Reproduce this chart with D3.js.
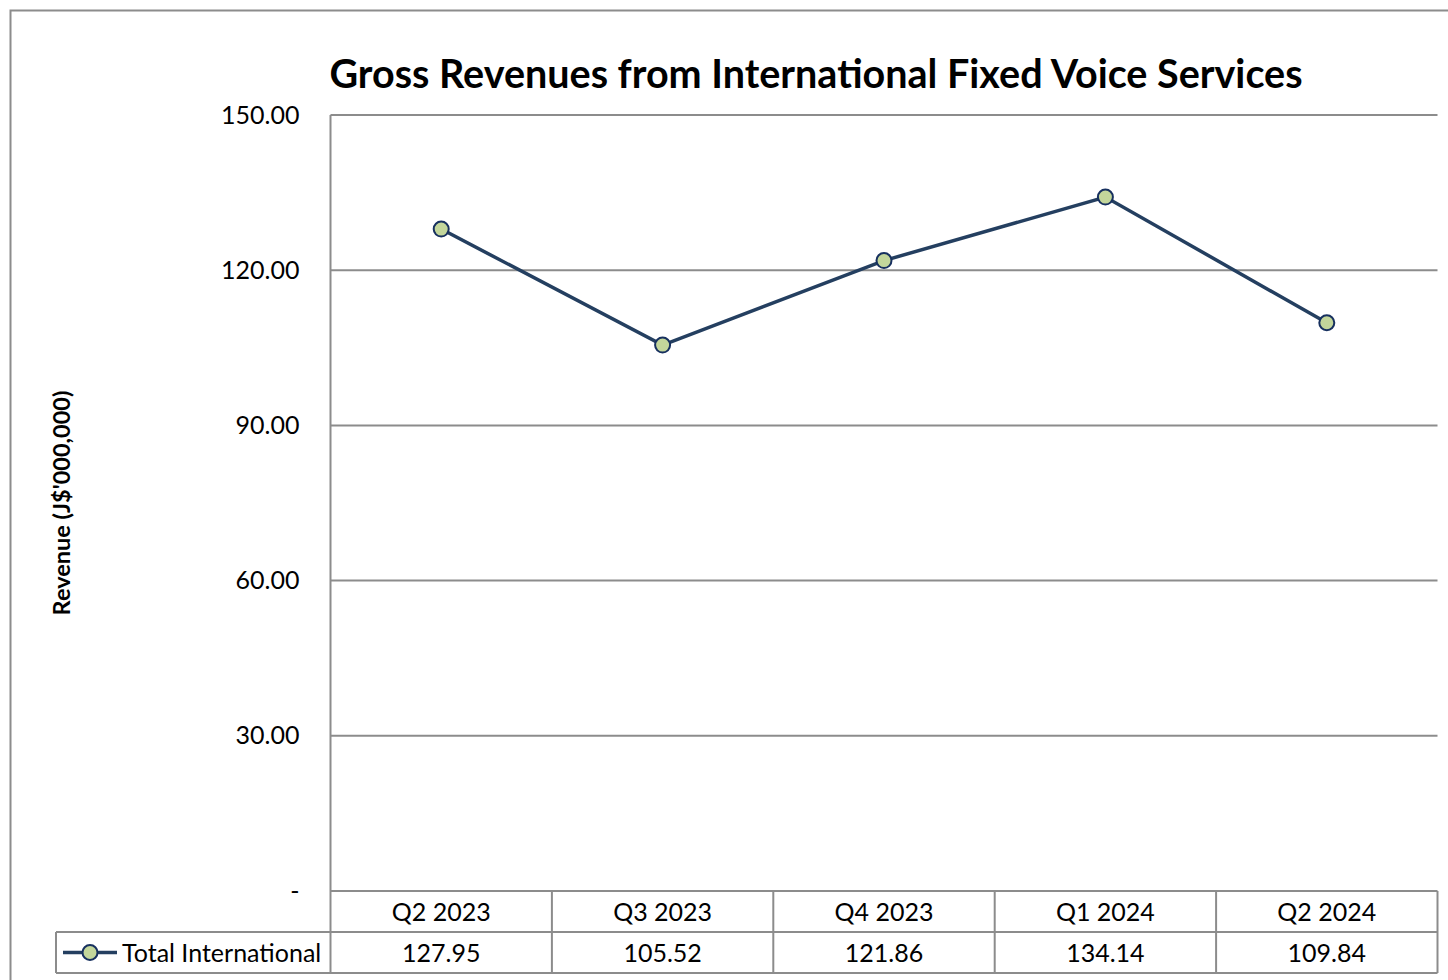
<!DOCTYPE html>
<html><head><meta charset="utf-8">
<script src="https://cdn.jsdelivr.net/npm/d3@7"></script>
<style>body{margin:0;background:#fff}svg{display:block}text{font-family:Lato,"Open Sans",sans-serif;fill:#000}</style>
</head><body>
<script>
const categories = ["Q2 2023","Q3 2023","Q4 2023","Q1 2024","Q2 2024"];
const seriesName = "Total International";
const values = [127.95,105.52,121.86,134.14,109.84];
const valueLabels = ["127.95","105.52","121.86","134.14","109.84"];
const yTicks = [0,30,60,90,120,150];
const yTickLabels = ["-","30.00","60.00","90.00","120.00","150.00"];
const title = "Gross Revenues from International Fixed Voice Services";
const yTitle = "Revenue (J$'000,000)";

const W=1448,H=980;
const svg=d3.select("body").append("svg").attr("width",W).attr("height",H);
svg.append("rect").attr("x",10.5).attr("y",10.5).attr("width",W).attr("height",H).attr("fill","#fff").attr("stroke","#8c8c8c").attr("stroke-width",2);

const L=330.5,R=1437.5,T=115,B=891;
const x=d3.scaleBand().domain(categories).range([L,R]);
const y=d3.scaleLinear().domain([0,150]).range([B,T]);
const gridColor="#8c8c8c";
const FS=25;

// gridlines
svg.append("g").selectAll("line").data(yTicks.filter(d=>d>0)).join("line")
 .attr("x1",L).attr("x2",R).attr("y1",d=>y(d)).attr("y2",d=>y(d))
 .attr("stroke",gridColor).attr("stroke-width",2);
// left axis line
svg.append("line").attr("x1",L).attr("x2",L).attr("y1",T).attr("y2",B).attr("stroke",gridColor).attr("stroke-width",2);

// y tick labels
const yAxis=d3.axisLeft(y).tickValues(yTicks).tickFormat((d,i)=>yTickLabels[i]).tickSize(0).tickPadding(31);
const ga=svg.append("g").attr("transform",`translate(${L},0)`).call(yAxis);
ga.select(".domain").remove();
ga.selectAll("text").attr("font-size",FS).attr("font-family","Lato, 'Open Sans', sans-serif").attr("fill","#000");

// title
svg.append("text").attr("x",816).attr("y",88).attr("text-anchor","middle")
 .attr("font-size",39.5).attr("font-weight","bold").text(title);
// y title
svg.append("text").attr("transform","translate(70,503) rotate(-90)").attr("text-anchor","middle")
 .attr("font-size",23.5).attr("font-weight","bold").text(yTitle);

// data table
const row1=B, row2=932, row3=973, legL=56;
const tbl=svg.append("g").attr("stroke",gridColor).attr("stroke-width",2).attr("fill","none");
tbl.append("line").attr("x1",L).attr("x2",R).attr("y1",row1).attr("y2",row1);
tbl.append("line").attr("x1",legL).attr("x2",R).attr("y1",row2).attr("y2",row2);
tbl.append("line").attr("x1",legL).attr("x2",R).attr("y1",row3).attr("y2",row3);
tbl.append("line").attr("x1",legL).attr("x2",legL).attr("y1",row2).attr("y2",row3);
tbl.append("line").attr("x1",L).attr("x2",L).attr("y1",row1).attr("y2",row3);
tbl.selectAll("line.c").data(categories).join("line").attr("class","c")
 .attr("x1",d=>x(d)+x.bandwidth()).attr("x2",d=>x(d)+x.bandwidth()).attr("y1",row1).attr("y2",row3);

svg.append("g").selectAll("text").data(categories).join("text")
 .attr("x",d=>x(d)+x.bandwidth()/2).attr("y",(row1+row2)/2+9).attr("text-anchor","middle")
 .attr("font-size",FS).text(d=>d);
svg.append("g").selectAll("text").data(valueLabels).join("text")
 .attr("x",(d,i)=>x(categories[i])+x.bandwidth()/2).attr("y",(row2+row3)/2+9).attr("text-anchor","middle")
 .attr("font-size",FS).text(d=>d);

const lineColor="#243f60", markFill="#c3d69b", markStroke="#17305f";
// legend key
const ly=(row2+row3)/2;
svg.append("line").attr("x1",63).attr("x2",117).attr("y1",ly).attr("y2",ly).attr("stroke",lineColor).attr("stroke-width",3.5);
svg.append("circle").attr("cx",90).attr("cy",ly).attr("r",7.5).attr("fill",markFill).attr("stroke",markStroke).attr("stroke-width",2);
svg.append("text").attr("x",122).attr("y",ly+9).attr("font-size",FS).text(seriesName);

// series
const data=categories.map((c,i)=>({c,v:values[i]}));
svg.append("path").datum(data)
 .attr("d",d3.line().x(d=>x(d.c)+x.bandwidth()/2).y(d=>y(d.v)))
 .attr("fill","none").attr("stroke",lineColor).attr("stroke-width",3.5);
svg.append("g").selectAll("circle").data(data).join("circle")
 .attr("cx",d=>x(d.c)+x.bandwidth()/2).attr("cy",d=>y(d.v)).attr("r",7.5)
 .attr("fill",markFill).attr("stroke",markStroke).attr("stroke-width",2);
</script>
</body></html>
